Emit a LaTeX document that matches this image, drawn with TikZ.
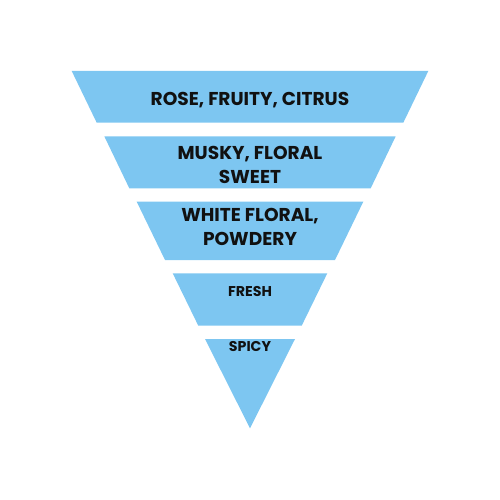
\documentclass[tikz,border=0pt]{standalone}
\usepackage{fontspec}
\setmainfont{Poppins}
\definecolor{layer}{RGB}{125,198,241}
\definecolor{ink}{RGB}{17,17,17}
\begin{document}
\begin{tikzpicture}[x=1pt,y=-1pt,
  layerfill/.style={fill=layer},
  lbl/.style={text=ink,font=\bfseries\fontsize{18.6}{23.5}\selectfont,align=center,inner sep=0pt},
  lblsmall/.style={text=ink,font=\bfseries\fontsize{14.2}{16}\selectfont,align=center,inner sep=0pt}]
\useasboundingbox (0,0) rectangle (500,500);
\fill[layerfill] (71.7,71) -- (428.3,71) -- (403.3,122.7) -- (96.7,122.7) -- cycle;
\fill[layerfill] (104.3,136.3) -- (395.7,136.3) -- (370.7,188.3) -- (129.3,188.3) -- cycle;
\fill[layerfill] (136.7,201.7) -- (363.3,201.7) -- (335,260) -- (165,260) -- cycle;
\fill[layerfill] (172.7,273.3) -- (327.3,273.3) -- (301.7,325.7) -- (198.3,325.7) -- cycle;
\fill[layerfill] (205,339) -- (295,339) -- (250,428.3) -- cycle;
\node[lbl] (t1) at (250,100.5) {ROSE, FRUITY, CITRUS};
\node[lbl] (t2) at (250,165) {MUSKY, FLORAL\\SWEET};
\node[lbl] (t3) at (250,227) {WHITE FLORAL,\\POWDERY};
\node[lblsmall] (t4) at (250,291.5) {FRESH};
\node[lblsmall] (t5) at (250,346.5) {SPICY};
\end{tikzpicture}
\end{document}
